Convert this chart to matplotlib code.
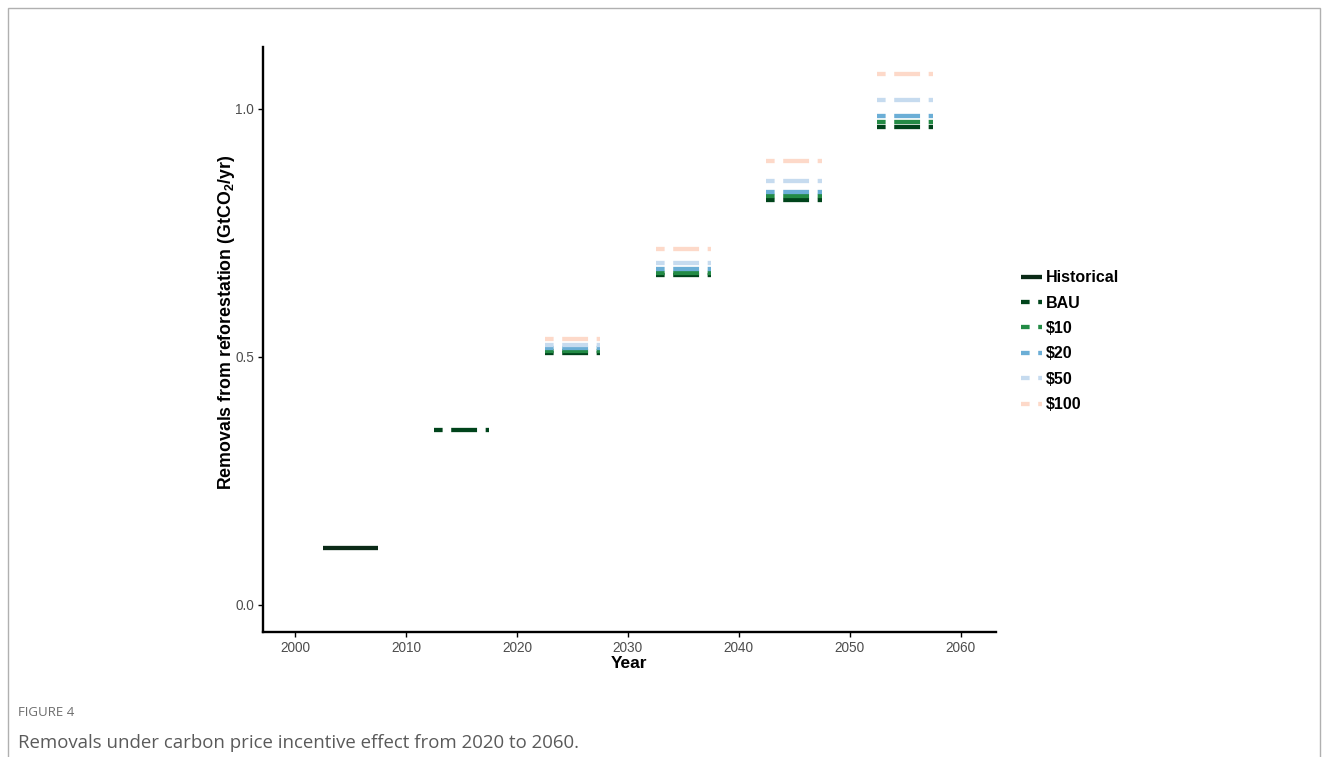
import matplotlib
matplotlib.use("Agg")
import matplotlib.pyplot as plt
from matplotlib.patches import Rectangle

plt.rcParams['font.family'] = ['Liberation Sans', 'DejaVu Sans']

# Data
hist_year = [2002.5, 2007.5]
hist_value = 0.114

bau_2015_year = [2012.5, 2017.5]
bau_2015_value = 0.353

scenarios = ["BAU", "$10", "$20", "$50", "$100"]
colors = ["#00441b", "#238b45", "#6baed6", "#c6dbef", "#fdd9c9"]
periods = [2025, 2035, 2045, 2055]
values = {
    "BAU":  [0.509, 0.665, 0.817, 0.964],
    "$10":  [0.513, 0.670, 0.824, 0.974],
    "$20":  [0.518, 0.678, 0.833, 0.986],
    "$50":  [0.525, 0.690, 0.855, 1.018],
    "$100": [0.536, 0.717, 0.895, 1.070],
}
half_width = 2.5

xticks = [2000, 2010, 2020, 2030, 2040, 2050, 2060]
yticks = [0.0, 0.5, 1.0]

fig = plt.figure(figsize=(13.28, 7.57), dpi=100)
ax = fig.add_axes([263/1328, 1-632/757, (996-263)/1328, (632-47)/757])

lw = 3.1
dash = (0, (2, 2, 6, 2))
hist_color = "#0b2a17"

ax.plot(hist_year, [hist_value]*2, color=hist_color, lw=lw, solid_capstyle='butt',
        label="Historical")
ax.plot(bau_2015_year, [bau_2015_value]*2, color=colors[0], lw=lw, ls=dash,
        dash_capstyle='butt')

for s, c in zip(scenarios, colors):
    for i, p in enumerate(periods):
        ax.plot([p - half_width, p + half_width], [values[s][i]]*2, color=c, lw=lw,
                ls=dash, dash_capstyle='butt', label=s if i == 0 else None)

ax.set_xlim(1997.1, 2063.2)
ax.set_ylim(-0.0545, 1.125)
ax.set_xticks(xticks)
ax.set_yticks(yticks)
ax.set_yticklabels(["0.0", "0.5", "1.0"])
for sp in ["top", "right"]:
    ax.spines[sp].set_visible(False)
for sp in ["left", "bottom"]:
    ax.spines[sp].set_linewidth(1.7)
ax.tick_params(axis='both', length=3.5, width=1.0, colors='black', labelcolor='#4d4d4d',
               labelsize=9.8, pad=3)
ax.set_xlabel("Year", fontsize=12.5, fontweight='bold', labelpad=1)
ax.set_ylabel("Removals from reforestation (GtCO$_\\mathregular{2}$/yr)", fontsize=12.8,
              fontweight='bold')
ax.yaxis.set_label_coords(-0.035, 0.53)

leg = ax.legend(loc='center left', bbox_to_anchor=(1.026, 0.497), frameon=False,
                prop={'weight': 'bold', 'size': 11.5}, handlelength=1.3,
                handletextpad=0.2, labelspacing=0.65, borderaxespad=0)

# page frame and caption
fig.patches.append(Rectangle((8/1328, -0.1), (1320-8)/1328, 1.1 - 8/757, transform=fig.transFigure,
                             fill=False, edgecolor='#b0b0b0', lw=1.0))
fig.text(18/1328, 1-713/757, "FIGURE 4", fontsize=9.5, color='#6d6d6d',
         family=['Open Sans', 'DejaVu Sans'], va='center', ha='left')
fig.text(18/1328, 1-743/757, "Removals under carbon price incentive effect from 2020 to 2060.",
         fontsize=13.4, color='#5a5a5a', family=['Open Sans', 'DejaVu Sans'],
         va='center', ha='left')

fig.savefig("out.png", dpi=100)
